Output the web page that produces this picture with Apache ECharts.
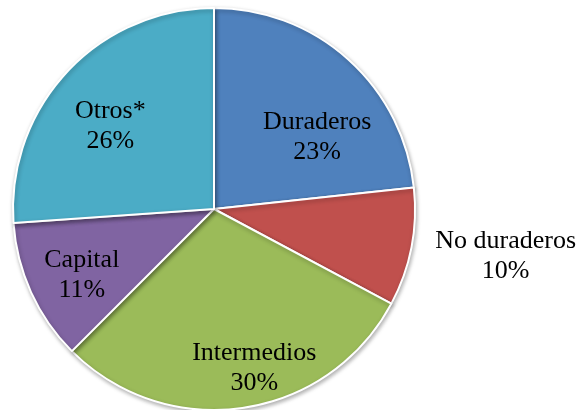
<!DOCTYPE html>
<html>
<head>
<meta charset="utf-8">
<script src="https://cdn.jsdelivr.net/npm/echarts@6/dist/echarts.min.js"></script>
<style>
  html, body { margin: 0; padding: 0; background: #fff; }
  #chart { width: 577px; height: 410px; }
</style>
</head>
<body>
<div id="chart"></div>
<script>
// sectores, en el orden del grafico (desde arriba, sentido horario)
var categories = ['Duraderos', 'No duraderos', 'Intermedios', 'Capital', 'Otros*'];
// participacion (%) estimada del dibujo; las etiquetas muestran el valor redondeado
var shares = [23.3, 9.5, 29.7, 11.4, 26.1];

var colors = ['#4F81BD', '#C0504D', '#9BBB59', '#8064A2', '#4BACC6'];
// desplazamiento de cada etiqueta respecto a la posicion "inside"
var labelOffsets = [[34, 5], [190, 27], [25, 57], [-38, 23], [-28, -12]];

var myChart = echarts.init(document.getElementById('chart'));

var pieData = [];
for (var i = 0; i < categories.length; i++) {
  pieData.push({
    name: categories[i],
    value: shares[i],
    itemStyle: { color: colors[i] },
    label: { offset: labelOffsets[i] }
  });
}

var option = {
  animation: false,
  series: [{
    type: 'pie',
    center: [214, 209],
    radius: 201,
    startAngle: 90,
    clockwise: true,
    avoidLabelOverlap: false,
    itemStyle: {
      borderColor: '#ffffff',
      borderWidth: 2,
      shadowBlur: 4,
      shadowOffsetX: 1,
      shadowOffsetY: 2,
      shadowColor: 'rgba(0,0,0,0.3)'
    },
    label: {
      show: true,
      position: 'inside',
      formatter: function (p) {
        return p.name + '\n' + Math.round(p.value) + '%';
      },
      color: '#000',
      fontFamily: '"Liberation Serif", "Times New Roman", serif',
      fontSize: 26,
      lineHeight: 30,
      align: 'center'
    },
    labelLine: { show: false },
    emphasis: { disabled: true },
    data: pieData
  }]
};

myChart.setOption(option);
</script>
</body>
</html>
